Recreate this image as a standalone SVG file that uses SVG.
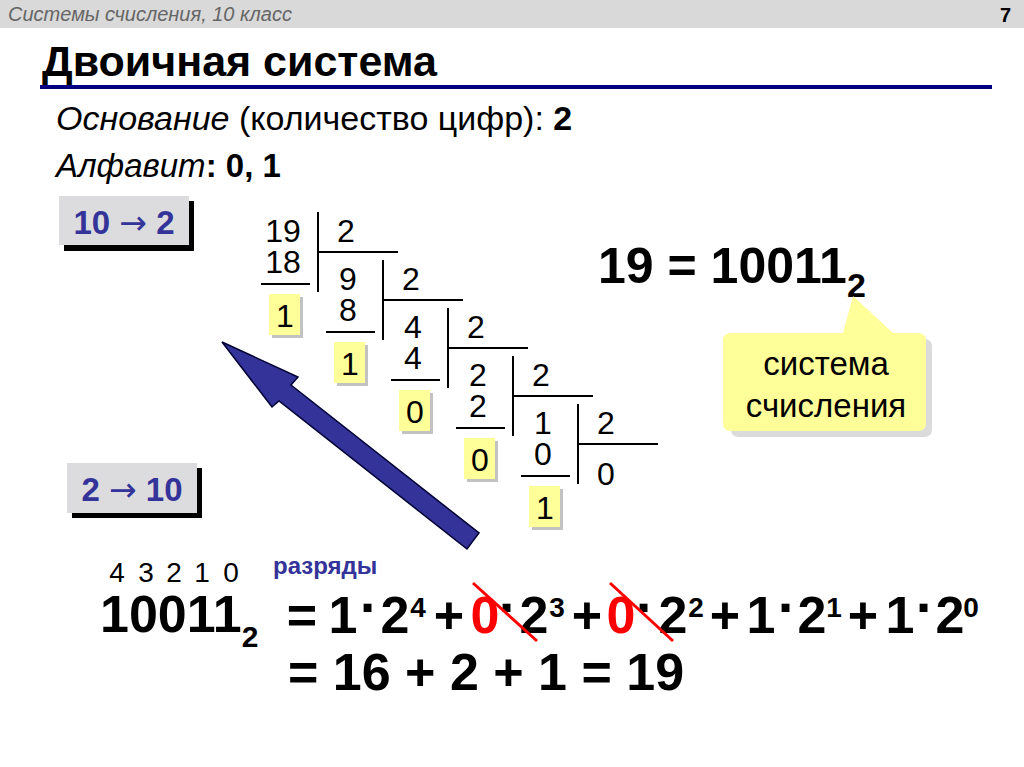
<svg xmlns="http://www.w3.org/2000/svg" width="1024" height="767" viewBox="0 0 1024 767">
<defs>
<style>
text{font-family:"Liberation Sans",Arial,sans-serif;}
.num{font-size:32px;fill:#000;text-anchor:middle;}
.ln{stroke:#000;stroke-width:2;}
.rbox{fill:#ffff99;}
.rsh{fill:#999;opacity:0.6;}
.big{font-size:52px;font-weight:bold;fill:#000;}
.t{font-size:52px;font-weight:bold;fill:#000;text-anchor:middle;}
.d{font-size:56px;font-weight:bold;fill:#000;text-anchor:middle;}
.s{font-size:28px;font-weight:bold;fill:#000;text-anchor:middle;}
.red{fill:#ff0000;}
.btn{fill:#dcdcde;}
.btnsh{fill:#000;}
.btnt{font-size:33px;font-weight:bold;fill:#333399;}
.arr{font-family:"DejaVu Sans",sans-serif;font-weight:normal;}
.strike{stroke:#ff0000;stroke-width:3;}
</style>
</defs>
<rect width="1024" height="767" fill="#fff"/>
<g id="header">
<rect x="0" y="0" width="1024" height="28" fill="#d9d9d9"/>
<text x="8" y="21" font-size="20" font-style="italic" fill="#666">Системы счисления, 10 класс</text>
<text x="1011" y="22" font-size="20" font-weight="bold" fill="#000" text-anchor="end">7</text>
</g>
<g id="title">
<text x="42" y="76" font-size="43" font-weight="bold" fill="#000">Двоичная система</text>
<rect x="40" y="85" width="952" height="4" fill="#000080"/>
</g>
<g id="basis">
<text x="56" y="130" font-size="34" fill="#000"><tspan font-style="italic">Основание</tspan> (количество цифр): <tspan font-weight="bold">2</tspan></text>
<text x="56" y="177" font-size="33" fill="#000"><tspan font-style="italic">Алфавит</tspan><tspan font-weight="bold">: 0, 1</tspan></text>
</g>
<g id="btn-10-2">
<rect class="btnsh" x="64" y="201" width="130" height="50"/>
<rect class="btn" x="59" y="196" width="130" height="49"/>
<text class="btnt" x="124" y="234" text-anchor="middle">10 <tspan class="arr">→</tspan> 2</text>
</g>
<g id="btn-2-10">
<rect class="btnsh" x="72" y="468" width="130" height="50"/>
<rect class="btn" x="67" y="463" width="130" height="50"/>
<text class="btnt" x="132" y="501" text-anchor="middle">2 <tspan class="arr">→</tspan> 10</text>
</g>
<g id="division">
<g id="step0">
<text class="num" x="283" y="242">19</text>
<text class="num" x="346" y="242">2</text>
<text class="num" x="283" y="273">18</text>
<line class="ln" x1="261" y1="284" x2="310" y2="284"/>
<line class="ln" x1="318" y1="212" x2="318" y2="292"/>
<line class="ln" x1="318" y1="252" x2="398" y2="252"/>
<rect class="rsh" x="272" y="297" width="31" height="41"/>
<rect class="rbox" x="269" y="294" width="31" height="41"/>
<text class="num" x="285" y="327">1</text>
</g>
<g id="step1">
<text class="num" x="348" y="290">9</text>
<text class="num" x="411" y="290">2</text>
<text class="num" x="348" y="321">8</text>
<line class="ln" x1="326" y1="332" x2="375" y2="332"/>
<line class="ln" x1="383" y1="260" x2="383" y2="340"/>
<line class="ln" x1="383" y1="300" x2="463" y2="300"/>
<rect class="rsh" x="337" y="345" width="31" height="41"/>
<rect class="rbox" x="334" y="342" width="31" height="41"/>
<text class="num" x="350" y="375">1</text>
</g>
<g id="step2">
<text class="num" x="413" y="338">4</text>
<text class="num" x="476" y="338">2</text>
<text class="num" x="413" y="369">4</text>
<line class="ln" x1="391" y1="380" x2="440" y2="380"/>
<line class="ln" x1="448" y1="308" x2="448" y2="388"/>
<line class="ln" x1="448" y1="348" x2="528" y2="348"/>
<rect class="rsh" x="402" y="393" width="31" height="41"/>
<rect class="rbox" x="399" y="390" width="31" height="41"/>
<text class="num" x="415" y="423">0</text>
</g>
<g id="step3">
<text class="num" x="478" y="386">2</text>
<text class="num" x="541" y="386">2</text>
<text class="num" x="478" y="417">2</text>
<line class="ln" x1="456" y1="428" x2="505" y2="428"/>
<line class="ln" x1="513" y1="356" x2="513" y2="436"/>
<line class="ln" x1="513" y1="396" x2="593" y2="396"/>
<rect class="rsh" x="467" y="441" width="31" height="41"/>
<rect class="rbox" x="464" y="438" width="31" height="41"/>
<text class="num" x="480" y="471">0</text>
</g>
<g id="step4">
<text class="num" x="543" y="434">1</text>
<text class="num" x="606" y="434">2</text>
<text class="num" x="543" y="465">0</text>
<line class="ln" x1="521" y1="476" x2="570" y2="476"/>
<line class="ln" x1="578" y1="404" x2="578" y2="484"/>
<line class="ln" x1="578" y1="444" x2="658" y2="444"/>
<rect class="rsh" x="532" y="489" width="31" height="41"/>
<rect class="rbox" x="529" y="486" width="31" height="41"/>
<text class="num" x="545" y="519">1</text>
<text class="num" x="606" y="485">0</text>
</g>
</g>
<g id="connectors">
<polygon points="222,342 298,377 291,385 479,533 467,549 279,401 272,407" fill="#333399" stroke="#000033" stroke-width="1.5" stroke-linejoin="miter"/>
</g>
<g id="result">
<text x="598" y="283" font-size="50" font-weight="bold" fill="#000">19 = 10011<tspan font-size="34" dy="14">2</tspan></text>
</g>
<g id="callout">
<path d="M736,336 H843 L855,298 L893,336 H921 Q929,336 929,344 V426 Q929,434 921,434 H736 Q728,434 728,426 V344 Q728,336 736,336 Z" fill="#999" opacity="0.35" transform="translate(3,3)"/>
<path d="M731,333 H843 L853,296 L893,333 H918 Q926,333 926,341 V423 Q926,431 918,431 H731 Q723,431 723,423 V341 Q723,333 731,333 Z" fill="#ffff99"/>
<text x="826" y="375" font-size="33" fill="#000" text-anchor="middle">система</text>
<text x="826" y="417" font-size="33" fill="#000" text-anchor="middle">счисления</text>
</g>
<g id="digits">
<text x="117" y="582" font-size="28" text-anchor="middle">4</text>
<text x="146" y="582" font-size="28" text-anchor="middle">3</text>
<text x="174" y="582" font-size="28" text-anchor="middle">2</text>
<text x="202" y="582" font-size="28" text-anchor="middle">1</text>
<text x="231" y="582" font-size="28" text-anchor="middle">0</text>
<text x="273" y="574" font-size="24" font-weight="bold" fill="#333399">разряды</text>
</g>
<g id="formula">
<text class="big" x="100" y="632">10011<tspan font-size="30" dy="15">2</tspan></text>
<text class="t" x="302" y="633">=</text>
<text class="t" x="343" y="633">1</text>
<text class="d" x="369" y="626">·</text>
<text class="t" x="395" y="633">2</text>
<text class="s" x="418" y="617">4</text>
<text class="t" x="449" y="633">+</text>
<text class="t red" x="485" y="633">0</text>
<text class="d" x="508" y="626">·</text>
<text class="t" x="534" y="633">2</text>
<text class="s" x="557" y="617">3</text>
<text class="t" x="587" y="633">+</text>
<text class="t red" x="621" y="633">0</text>
<text class="d" x="645" y="626">·</text>
<text class="t" x="673" y="633">2</text>
<text class="s" x="696" y="617">2</text>
<text class="t" x="725" y="633">+</text>
<text class="t" x="761" y="633">1</text>
<text class="d" x="787" y="626">·</text>
<text class="t" x="812" y="633">2</text>
<text class="s" x="834" y="617">1</text>
<text class="t" x="863" y="633">+</text>
<text class="t" x="900" y="633">1</text>
<text class="d" x="925" y="626">·</text>
<text class="t" x="950" y="633">2</text>
<text class="s" x="971" y="617">0</text>
<line class="strike" x1="473" y1="583" x2="537" y2="641"/>
<line class="strike" x1="610" y1="583" x2="673" y2="641"/>
<text class="big" x="288" y="690">= 16 + 2 + 1 = 19</text>
</g>
</svg>
